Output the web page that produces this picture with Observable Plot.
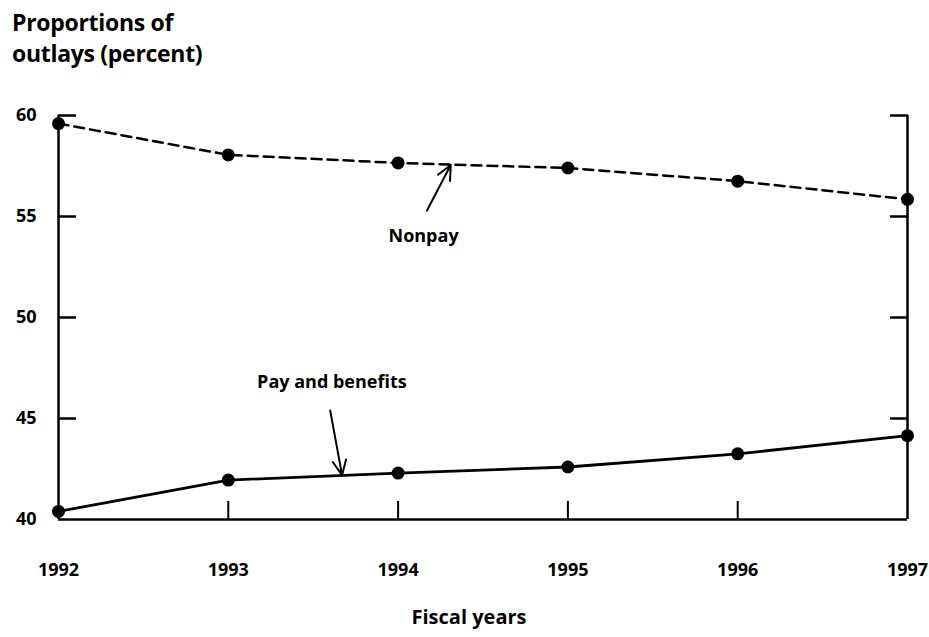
<!DOCTYPE html>
<html>
<head>
<meta charset="utf-8">
<script src="https://cdn.jsdelivr.net/npm/d3@7"></script>
<script src="https://cdn.jsdelivr.net/npm/@observablehq/plot@0.6"></script>
<style>
  body { margin: 0; background: #fff; font-family: "Open Sans", sans-serif; }
  #wrap { position: relative; width: 929px; height: 637px; }
  #chart { position: absolute; left: 0; top: 0; }
  .title { position: absolute; left: 12px; top: 7px; font-size: 23px; font-weight: 700; line-height: 31px; color: #000; letter-spacing: -0.3px; }
  .xlabel { position: absolute; left: 469px; top: 603px; transform: translateX(-50%); font-size: 20px; font-weight: 700; color: #000; white-space: nowrap; }
  svg text { font-weight: 700; }
</style>
</head>
<body>
<div id="wrap">
  <div id="chart"></div>
  <div class="title">Proportions of<br>outlays (percent)</div>
  <div class="xlabel">Fiscal years</div>
</div>
<script>
const years = [1992, 1993, 1994, 1995, 1996, 1997];
const nonpay = [59.6, 58.05, 57.65, 57.4, 56.75, 55.85];
const pay = [40.4, 41.95, 42.3, 42.6, 43.25, 44.15];
const yTicks = [40, 45, 50, 55, 60];
const yInnerTicks = [45, 50, 55, 60];
const xInnerTicks = [1993, 1994, 1995, 1996];

// annotation labels and arrows (data units)
const annoText = ["Nonpay", "Pay and benefits"];
const annoX = [1994.15, 1993.61];
const annoY = [54.0, 46.8];
const arrowX1 = [1994.17, 1993.6];
const arrowY1 = [55.3, 45.4];
const arrowX2 = [1994.31, 1993.67];
const arrowY2 = [57.55, 42.2];

const nonpayData = years.map((y, i) => ({year: y, value: nonpay[i]}));
const payData = years.map((y, i) => ({year: y, value: pay[i]}));
const annoData = annoText.map((t, i) => ({text: t, x: annoX[i], y: annoY[i]}));
const arrowData = arrowX1.map((x, i) => ({x1: x, y1: arrowY1[i], x2: arrowX2[i], y2: arrowY2[i]}));

const chart = Plot.plot({
  width: 929,
  height: 637,
  marginLeft: 58,
  marginRight: 22,
  marginTop: 115,
  marginBottom: 118,
  style: {fontFamily: "Open Sans, sans-serif", color: "#000", background: "#fff"},
  x: {domain: [1992, 1997]},
  y: {domain: [40, 60]},
  marks: [
    // frame
    Plot.ruleX([1992, 1997], {stroke: "black", strokeWidth: 2.5}),
    Plot.ruleY([40], {stroke: "black", strokeWidth: 2.5}),
    // inward ticks
    Plot.axisY({anchor: "left", ticks: yInnerTicks, tickSize: -18, tickFormat: () => "", strokeWidth: 2.5, label: null}),
    Plot.axisY({anchor: "right", ticks: yInnerTicks, tickSize: -18, tickFormat: () => "", strokeWidth: 2.5, label: null}),
    Plot.axisX({anchor: "bottom", ticks: xInnerTicks, tickSize: -18, tickFormat: () => "", strokeWidth: 2, label: null}),
    // tick labels
    Plot.axisY({anchor: "left", ticks: yTicks, tickSize: 0, tickPadding: 22, fontSize: 18, fontWeight: 700, label: null}),
    Plot.axisX({anchor: "bottom", ticks: years, tickSize: 0, tickPadding: 44, fontSize: 18, fontWeight: 700, tickFormat: d => String(d), label: null}),
    // series
    Plot.line(nonpayData, {x: "year", y: "value", stroke: "black", strokeWidth: 2.5, strokeDasharray: "10,6"}),
    Plot.line(payData, {x: "year", y: "value", stroke: "black", strokeWidth: 2.8}),
    Plot.dot(nonpayData, {x: "year", y: "value", r: 6.5, fill: "black", stroke: "none"}),
    Plot.dot(payData, {x: "year", y: "value", r: 6.5, fill: "black", stroke: "none"}),
    // annotations
    Plot.arrow(arrowData, {x1: "x1", y1: "y1", x2: "x2", y2: "y2", stroke: "black", strokeWidth: 2, headLength: 12, headAngle: 50}),
    Plot.text(annoData, {x: "x", y: "y", text: "text", fontSize: 18, fontWeight: 700, fill: "black"})
  ]
});
document.getElementById("chart").appendChild(chart);
</script>
</body>
</html>
